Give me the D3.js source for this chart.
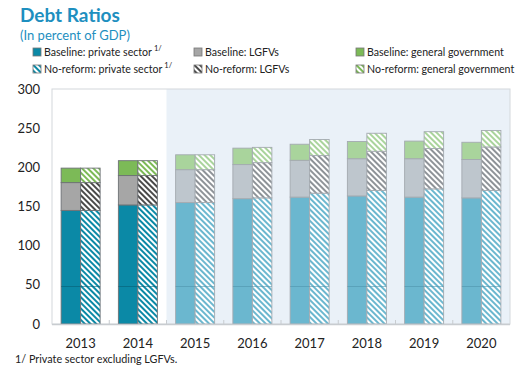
<!DOCTYPE html>
<html><head><meta charset="utf-8">
<script src="https://cdn.jsdelivr.net/npm/d3@7"></script>
<style>body{margin:0;background:#fff}svg{display:block}text{font-family:Lato,"Noto Sans",sans-serif}</style>
</head><body><svg id="c" width="521" height="372"></svg>
<script>
const years = ["2013","2014","2015","2016","2017","2018","2019","2020"];
const projectionStart = "2015";
const basePrivate = [145, 152, 155, 160, 162, 163.5, 162, 161];
const baseLGFV    = [35.5, 37.5, 42, 43.5, 47, 47.5, 49, 49];
const baseGov     = [18.5, 19, 19, 21, 20.5, 22, 22.5, 22];
const nrPrivate   = [145, 152, 155, 161, 167, 170.5, 172.5, 170.5];
const nrLGFV      = [35.5, 37.5, 42, 45, 48, 50, 51.5, 55.5];
const nrGov       = [18.5, 19, 19, 19.5, 20.5, 23, 21.5, 21];
const yTicks = [0, 50, 100, 150, 200, 250, 300];
const innerLineValue = 48;
const legendLabels = [
  ["Baseline: private sector", "Baseline: LGFVs", "Baseline: general government"],
  ["No-reform: private sector", "No-reform: LGFVs", "No-reform: general government"]
];

const colors = {
  hist: ["#0b89a6", "#a6a6a6", "#7cba57"],
  proj: ["#6bb7cf", "#bec6cd", "#a9d49c"],
  hatchHist: ["#0b89a6", "#4a4a4a", "#7cba57"],
  hatchProj: ["#6bb7cf", "#8e9398", "#a9d49c"]
};

const svg = d3.select("#c");
const m = {l:52, r:510, t:89, b:324};
const x = d3.scaleBand().domain(years).range([m.l, m.r]).padding(0);
const y = d3.scaleLinear().domain([0,300]).range([m.b, m.t]);

// patterns
const defs = svg.append("defs");
function pat(id, col){
  const p = defs.append("pattern").attr("id", id).attr("patternUnits","userSpaceOnUse")
    .attr("width",4).attr("height",4).attr("patternTransform","rotate(45)");
  p.append("rect").attr("width",4).attr("height",4).attr("fill","#fff");
  p.append("rect").attr("width",4).attr("height",2).attr("fill",col);
}
["hatchHist","hatchProj"].forEach(k=>colors[k].forEach((c,i)=>pat(k+i,c)));

// title
svg.append("text").attr("x",20).attr("y",22).attr("fill","#1e8fbf")
  .attr("font-size",19).attr("font-weight","bold").text("Debt Ratios");
svg.append("text").attr("x",20).attr("y",40).attr("fill","#1e8fbf")
  .attr("font-size",13).text("(In percent of GDP)");

// legend
const lgX = [33, 194, 356], lgY = [52, 69];
legendLabels.forEach((row, r)=>row.forEach((lab, c)=>{
  const g = svg.append("g").attr("transform",`translate(${lgX[c]},${lgY[r]})`);
  g.append("rect").attr("x",0).attr("y",-4).attr("width",8).attr("height",8)
    .attr("fill", r===0 ? colors.hist[c] : `url(#hatchHist${c})`)
    .attr("stroke","#777").attr("stroke-width",0.8);
  const t = g.append("text").attr("x",11).attr("y",4).attr("font-size",10.6).attr("fill","#222").text(lab);
  if (c===0) t.append("tspan").attr("dy",-5).attr("dx",2).attr("font-size",7.5).text("1/");
}));

// background
const pi = years.indexOf(projectionStart);
svg.append("rect").attr("x", x(projectionStart)).attr("y", m.t)
  .attr("width", m.r - x(projectionStart)).attr("height", m.b - m.t).attr("fill","#eaf1f8");
svg.append("rect").attr("x", m.l).attr("y", m.t).attr("width", m.r-m.l).attr("height", m.b-m.t)
  .attr("fill","none").attr("stroke","#d4d8dc").attr("stroke-width",1);

// bars
const bw = 19.5;
years.forEach((yr, i)=>{
  const proj = i >= pi;
  const cx = x(yr) + x.bandwidth()/2;
  const sets = [
    {vals:[basePrivate[i], baseLGFV[i], baseGov[i]], x0: cx - bw, hatch:false},
    {vals:[nrPrivate[i], nrLGFV[i], nrGov[i]], x0: cx, hatch:true}
  ];
  sets.forEach(s=>{
    let cum = 0;
    s.vals.forEach((v, k)=>{
      const fill = s.hatch ? `url(#${proj?"hatchProj":"hatchHist"}${k})` : (proj?colors.proj:colors.hist)[k];
      svg.append("rect").attr("x", s.x0).attr("width", bw)
        .attr("y", y(cum+v)).attr("height", y(cum)-y(cum+v))
        .attr("fill", fill).attr("stroke", proj ? "#a4aab0" : "#6e7276").attr("stroke-width",0.9);
      cum += v;
    });
  });
  svg.append("line").attr("x1", cx-bw).attr("x2", cx+bw)
    .attr("y1", y(innerLineValue)).attr("y2", y(innerLineValue))
    .attr("stroke", proj ? "#4f93ab" : "#075f75").attr("stroke-width",0.8).attr("opacity",0.8);
});

// x axis
svg.append("line").attr("x1",m.l).attr("x2",m.r).attr("y1",m.b+0.5).attr("y2",m.b+0.5)
  .attr("stroke","#c8ccd0").attr("stroke-width",1.5);
years.slice(1).forEach(yr=>{
  svg.append("line").attr("x1",x(yr)).attr("x2",x(yr)).attr("y1",m.b).attr("y2",m.b-4)
    .attr("stroke","#c8ccd0");
});
years.forEach(yr=>{
  svg.append("text").attr("x", x(yr)+x.bandwidth()/2).attr("y", 348)
    .attr("text-anchor","middle").attr("font-size",13).attr("fill","#222").text(yr);
});
// y axis labels
yTicks.forEach(t=>{
  svg.append("text").attr("x",40).attr("y", y(t)+4.5).attr("text-anchor","end")
    .attr("font-size",13).attr("fill","#222").text(t);
});
svg.append("text").attr("x",15).attr("y",363).attr("font-size",10.8).attr("fill","#222")
  .text("1/ Private sector excluding LGFVs.");
</script></body></html>
